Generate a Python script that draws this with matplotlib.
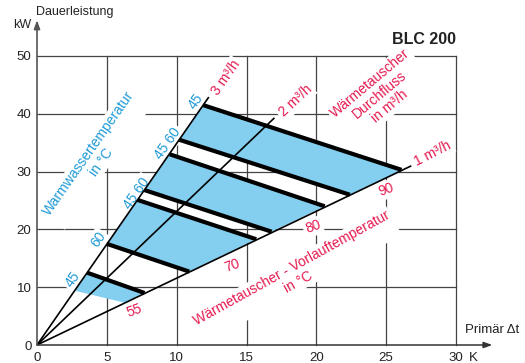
import matplotlib
matplotlib.use('Agg')
import matplotlib.pyplot as plt
from matplotlib.patches import Polygon

plt.rcParams['font.family'] = ['Liberation Sans', 'DejaVu Sans']

# ---------------- data ----------------
x_ticks = [0, 5, 10, 15, 20, 25, 30]
x_tick_labels = ['0', '5', '10', '15', '20', '25', '30']
y_ticks = [0, 10, 20, 30, 40, 50]
y_tick_labels = ['0', '10', '20', '30', '40', '50']

flow_labels = ['1 m³/h', '2 m³/h', '3 m³/h']
flow_end_dt = [26.8, 17.0, 12.3]
flow_end_kw = [31.0, 39.3, 42.9]

# temperature boundaries: start on the 3 m³/h line, end on the 1 m³/h line
temp_start_dt = [11.9, 10.2, 9.5, 7.7, 7.2, 5.0, 3.6, 2.7]
temp_start_kw = [41.5, 35.5, 33.0, 26.8, 25.1, 17.5, 12.5, 9.4]
temp_end_dt = [26.1, 22.4, 20.6, 16.8, 15.7, 10.9, 7.7, 6.3]
temp_end_kw = [30.3, 26.0, 24.0, 19.6, 18.3, 12.7, 9.0, 7.3]
temp_thick = [True, True, True, True, True, True, True, False]
blue_bands = [(0, 1), (2, 3), (4, 5), (6, 7)]

hot_water_labels = ['45', '45 60', '45 60', '60', '45']
hot_water_dt = [11.38, 9.38, 7.15, 4.37, 2.54]
hot_water_kw = [42.2, 34.9, 26.3, 18.2, 11.3]

supply_labels = ['55', '70', '80', '90']
supply_dt = [7.0, 13.96, 19.76, 24.98]
supply_kw = [5.9, 13.8, 20.4, 26.8]

# ---------------- style ----------------
RED = '#E5194F'
BLUE = '#1E9AD6'
FILL = '#84CFEF'
GRID = '#444444'
box = dict(boxstyle='square,pad=0.15', fc='white', ec='none')

fig = plt.figure(figsize=(5.25, 3.63), dpi=100)
ax = fig.add_axes([37/525, 18/363, 419/525, 289/363])
ax.set_xlim(0, 30)
ax.set_ylim(0, 50)
for s in ax.spines.values():
    s.set_visible(False)

# grid
for xv in x_ticks[1:]:
    ax.plot([xv, xv], [0, 50], color=GRID, lw=0.9, zorder=1, clip_on=False)
for yv in y_ticks[1:]:
    ax.plot([0, 30], [yv, yv], color=GRID, lw=0.9, zorder=1, clip_on=False)

# axes with arrows
ax.annotate('', xy=(32.6, 0), xytext=(0, 0), xycoords='data',
            arrowprops=dict(arrowstyle='-|>,head_length=0.5,head_width=0.18',
                            color='#333333', lw=1.1, shrinkA=0, shrinkB=0),
            annotation_clip=False, zorder=4)
ax.annotate('', xy=(0, 56.2), xytext=(0, 0), xycoords='data',
            arrowprops=dict(arrowstyle='-|>,head_length=0.5,head_width=0.18',
                            color='#555555', lw=1.2, shrinkA=0, shrinkB=0),
            annotation_clip=False, zorder=4)

ax.set_xticks(x_ticks)
ax.set_xticklabels(x_tick_labels, fontsize=9.5, color='#222222')
ax.set_yticks(y_ticks)
ax.set_yticklabels(y_tick_labels, fontsize=9.5, color='#222222')
ax.tick_params(length=0, pad=4)
ax.tick_params(axis='x', pad=5)

# blue bands
for a, b in blue_bands:
    poly = Polygon([(temp_start_dt[a], temp_start_kw[a]),
                    (temp_end_dt[a], temp_end_kw[a]),
                    (temp_end_dt[b], temp_end_kw[b]),
                    (temp_start_dt[b], temp_start_kw[b])],
                   closed=True, fc=FILL, ec='none', zorder=2.5)
    ax.add_patch(poly)

# flow lines
for dt, kw in zip(flow_end_dt, flow_end_kw):
    ax.plot([0, dt], [0, kw], color='black', lw=1.2, zorder=3,
            solid_capstyle='butt', clip_on=False)

# temperature thick lines
for i in range(len(temp_start_dt)):
    if temp_thick[i]:
        ax.plot([temp_start_dt[i], temp_end_dt[i]],
                [temp_start_kw[i], temp_end_kw[i]],
                color='black', lw=3.0, zorder=3.5, solid_capstyle='butt')

# texts
tk = dict(zorder=2, bbox=box)
ax.text(-0.07, 57.6, 'Dauerleistung', fontsize=9, ha='left', va='center',
        color='#222222')
ax.text(-0.4, 55.4, 'kW', fontsize=9, ha='right', va='center', color='#222222')
ax.text(30.0, 52.8, 'BLC 200', fontsize=11.5, fontweight='bold', ha='right',
        va='center', color='#222222')
ax.text(30.64, 2.6, 'Primär Δt', fontsize=9.5, ha='left', va='center',
        color='#222222', clip_on=False)
ax.annotate('K', xy=(30, 0), xycoords='data', xytext=(9, -5),
            textcoords='offset points', fontsize=9.5, ha='left', va='top',
            color='#222222', annotation_clip=False)

# flow labels
flow_label_pos = [(28.35, 33.2, 27), (18.5, 42.2, 43), (13.5, 46.2, 55)]
for lab, (x, y, r) in zip(flow_labels, flow_label_pos):
    ax.text(x, y, lab, fontsize=10, color=RED, rotation=r, ha='center',
            va='center', rotation_mode='anchor', **tk)

ax.text(24.55, 43.25, 'Wärmetauscher\nDurchfluss\nin m³/h', fontsize=10,
        color=RED, rotation=40, ha='center', va='center',
        rotation_mode='anchor', multialignment='center', linespacing=1.1, **tk)
ax.text(4.15, 32.4, 'Warmwassertemperatur\nin °C', fontsize=10,
        color=BLUE, rotation=55, ha='center', va='center',
        rotation_mode='anchor', multialignment='center', linespacing=1.1, **tk)
ax.text(18.47, 12.1, 'Wärmetauscher - Vorlauftemperatur\nin °C', fontsize=10,
        color=RED, rotation=29, ha='center', va='center',
        rotation_mode='anchor', multialignment='center', linespacing=1.1, **tk)

for lab, x, y in zip(hot_water_labels, hot_water_dt, hot_water_kw):
    ax.text(x, y, lab, fontsize=10, color=BLUE, rotation=55, ha='center',
            va='center', rotation_mode='anchor', **tk)
for lab, x, y in zip(supply_labels, supply_dt, supply_kw):
    ax.text(x, y, lab, fontsize=10, color=RED, rotation=20, ha='center',
            va='center', rotation_mode='anchor', **tk)

fig.savefig('out.png', dpi=100)
